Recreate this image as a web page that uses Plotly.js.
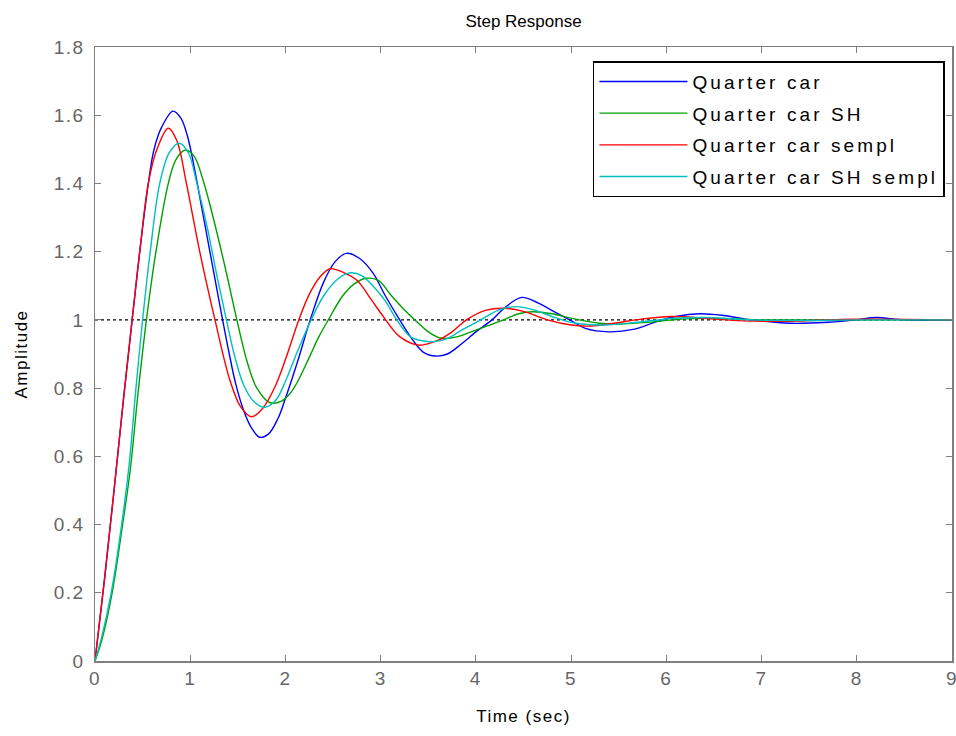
<!DOCTYPE html>
<html>
<head>
<meta charset="utf-8">
<script src="https://cdn.plot.ly/plotly-3.0.1.min.js"></script>
<style>
html,body{margin:0;padding:0;background:#fff;}
#chart{width:956px;height:736px;}
text.legendtext{letter-spacing:3.1px;}
.xtick text,.ytick text{letter-spacing:1.5px;}
text.xtitle,text.ytitle{letter-spacing:1.5px;}
</style>
</head>
<body>
<div id="chart"></div>
<script>
// Series names
const seriesNames = ['Quarter car', 'Quarter car SH', 'Quarter car sempl', 'Quarter car SH sempl'];

// Quarter car (blue)
const tQC = [0, 0.1, 0.2, 0.3, 0.39, 0.47, 0.56, 0.62, 0.7, 0.82, 0.9, 0.97, 1.04, 1.12, 1.2, 1.27, 1.34, 1.41, 1.48, 1.56, 1.64, 1.73, 1.82, 1.92, 2.0, 2.13, 2.26, 2.4, 2.52, 2.64, 2.78, 2.92, 3.05, 3.2, 3.34, 3.45, 3.58, 3.7, 3.85, 4.0, 4.17, 4.3, 4.48, 4.65, 4.85, 5.0, 5.15, 5.4, 5.65, 5.9, 6.1, 6.35, 6.6, 6.9, 7.3, 7.7, 8.0, 8.2, 8.5, 9];
const yQC = [0, 0.24, 0.5, 0.77, 1.0, 1.2, 1.4, 1.5, 1.565, 1.612, 1.592, 1.54, 1.45, 1.33, 1.21, 1.105, 1.0, 0.9, 0.81, 0.735, 0.685, 0.656, 0.665, 0.71, 0.77, 0.88, 1.0, 1.11, 1.17, 1.195, 1.18, 1.137, 1.07, 1.0, 0.94, 0.905, 0.894, 0.9, 0.93, 0.965, 1.0, 1.035, 1.066, 1.05, 1.02, 0.998, 0.975, 0.965, 0.972, 0.995, 1.01, 1.018, 1.013, 1.0, 0.99, 0.993, 1.0, 1.007, 1.0, 1.0];

// Quarter car SH (green)
const tSH = [0, 0.07, 0.18, 0.29, 0.37, 0.45, 0.54, 0.64, 0.77, 0.85, 0.95, 1.04, 1.14, 1.25, 1.37, 1.49, 1.6, 1.7, 1.84, 1.96, 2.05, 2.12, 2.25, 2.35, 2.45, 2.6, 2.72, 2.85, 2.98, 3.1, 3.23, 3.36, 3.5, 3.64, 3.8, 3.95, 4.1, 4.29, 4.45, 4.6, 4.8, 5.0, 5.3, 5.5, 5.8, 6.2, 6.6, 7.0, 8.0, 9];
const ySH = [0, 0.06, 0.2, 0.4, 0.56, 0.78, 1.0, 1.2, 1.4, 1.47, 1.498, 1.48, 1.405, 1.29, 1.15, 1.0, 0.875, 0.8, 0.757, 0.762, 0.785, 0.815, 0.89, 0.95, 1.0, 1.07, 1.105, 1.122, 1.115, 1.075, 1.035, 1.0, 0.965, 0.946, 0.95, 0.965, 0.98, 1.0, 1.018, 1.024, 1.018, 1.005, 0.99, 0.988, 0.993, 1.003, 1.004, 1.0, 1.0, 1.0];

// Quarter car sempl (red)
const tSE = [0, 0.1, 0.2, 0.3, 0.39, 0.47, 0.56, 0.65, 0.77, 0.86, 0.96, 1.1, 1.26, 1.42, 1.53, 1.645, 1.76, 1.9, 2.02, 2.14, 2.25, 2.36, 2.47, 2.6, 2.75, 2.9, 3.03, 3.2, 3.4, 3.6, 3.75, 3.9, 4.1, 4.3, 4.5, 4.75, 5.0, 5.2, 5.45, 5.75, 6.05, 6.4, 6.8, 7.3, 8.0, 9];
const ySE = [0, 0.24, 0.5, 0.77, 1.0, 1.2, 1.4, 1.5, 1.562, 1.525, 1.4, 1.2, 1.0, 0.82, 0.745, 0.716, 0.74, 0.81, 0.9, 1.0, 1.075, 1.125, 1.15, 1.14, 1.116, 1.06, 1.009, 0.951, 0.926, 0.94, 0.965, 1.0, 1.028, 1.034, 1.025, 1.0, 0.985, 0.982, 0.99, 1.003, 1.01, 1.005, 0.997, 0.996, 1.002, 1.0];

// Quarter car SH sempl (cyan)
const tSS = [0, 0.07, 0.17, 0.28, 0.36, 0.43, 0.5, 0.58, 0.68, 0.78, 0.886, 0.98, 1.07, 1.18, 1.28, 1.38, 1.47, 1.56, 1.67, 1.785, 1.9, 2.0, 2.13, 2.27, 2.4, 2.55, 2.68, 2.8, 2.95, 3.05, 3.17, 3.31, 3.45, 3.55, 3.7, 3.85, 4.05, 4.25, 4.43, 4.6, 4.85, 5.05, 5.35, 5.7, 6.1, 6.4, 6.9, 7.4, 8.0, 9];
const ySS = [0, 0.07, 0.2, 0.4, 0.58, 0.8, 1.0, 1.2, 1.4, 1.49, 1.518, 1.49, 1.4, 1.27, 1.13, 1.0, 0.89, 0.81, 0.76, 0.744, 0.765, 0.82, 0.91, 1.0, 1.07, 1.12, 1.138, 1.13, 1.09, 1.055, 1.0, 0.951, 0.938, 0.936, 0.945, 0.97, 1.0, 1.03, 1.039, 1.03, 1.005, 0.99, 0.985, 0.993, 1.005, 1.007, 1.0, 0.998, 1.0, 1.0];

// Reference (steady-state) line
const refT = [0, 9];
const refY = [1, 1];

// Axis ticks
const xTicks = [0, 1, 2, 3, 4, 5, 6, 7, 8, 9];
const yTicks = [0, 0.2, 0.4, 0.6, 0.8, 1, 1.2, 1.4, 1.6, 1.8];
const yTickText = ['0', '0.2', '0.4', '0.6', '0.8', '1', '1.2', '1.4', '1.6', '1.8'];

const colors = ['#0000FF', '#00A000', '#FF0000', '#00BFBF'];
const ts = [tQC, tSH, tSE, tSS];
const ys = [yQC, ySH, ySE, ySS];

const traces = [{
  x: refT, y: refY, mode: 'lines', showlegend: false, hoverinfo: 'skip',
  line: {color: '#000', width: 1.3, dash: 'dot'}
}];
for (let i = 0; i < 4; i++) {
  traces.push({
    x: ts[i], y: ys[i], mode: 'lines', name: seriesNames[i],
    legendgroup: 'g' + i,
    line: {color: colors[i], width: 1.4, shape: 'spline', smoothing: 1}
  });
}

const fam = 'Liberation Sans, Arial, sans-serif';
const axisCommon = {
  showline: true, linecolor: '#7f7f7f', linewidth: 1.5, mirror: 'ticks',
  ticks: 'inside', ticklen: 6, tickcolor: '#7f7f7f', tickwidth: 1,
  showgrid: false, zeroline: false, ticklabeloverflow: 'allow',
  tickfont: {family: fam, size: 19, color: '#666'}
};

const layout = {
  width: 956, height: 736,
  margin: {l: 95, r: 4, t: 47, b: 75},
  paper_bgcolor: '#fff', plot_bgcolor: '#fff',
  font: {family: fam, color: '#000'},
  title: {text: 'Step Response', x: 0.5, xref: 'paper', xanchor: 'center',
          y: 1 - 21 / 736, yref: 'container', yanchor: 'middle',
          font: {size: 17, color: '#000'}},
  xaxis: Object.assign({}, axisCommon, {
    range: [0, 9], tickvals: xTicks, ticktext: xTicks.map(String),
    title: {text: 'Time (sec)', standoff: 22, font: {size: 17, color: '#000'}}
  }),
  yaxis: Object.assign({}, axisCommon, {
    range: [0, 1.8], tickvals: yTicks, ticktext: yTickText, ticklabelstandoff: 5,
    title: {text: 'Amplitude', standoff: 22, font: {size: 17, color: '#000'}}
  }),
  legend: {
    x: 0.581, y: 0.977, xanchor: 'left', yanchor: 'top',
    bgcolor: '#fff', bordercolor: '#000', borderwidth: 1.5,
    font: {family: fam, size: 19, color: '#000'},
    itemwidth: 88, tracegroupgap: 4, traceorder: 'grouped'
  },
  showlegend: true
};

Plotly.newPlot('chart', traces, layout, {displayModeBar: false, staticPlot: true});
</script>
</body>
</html>
